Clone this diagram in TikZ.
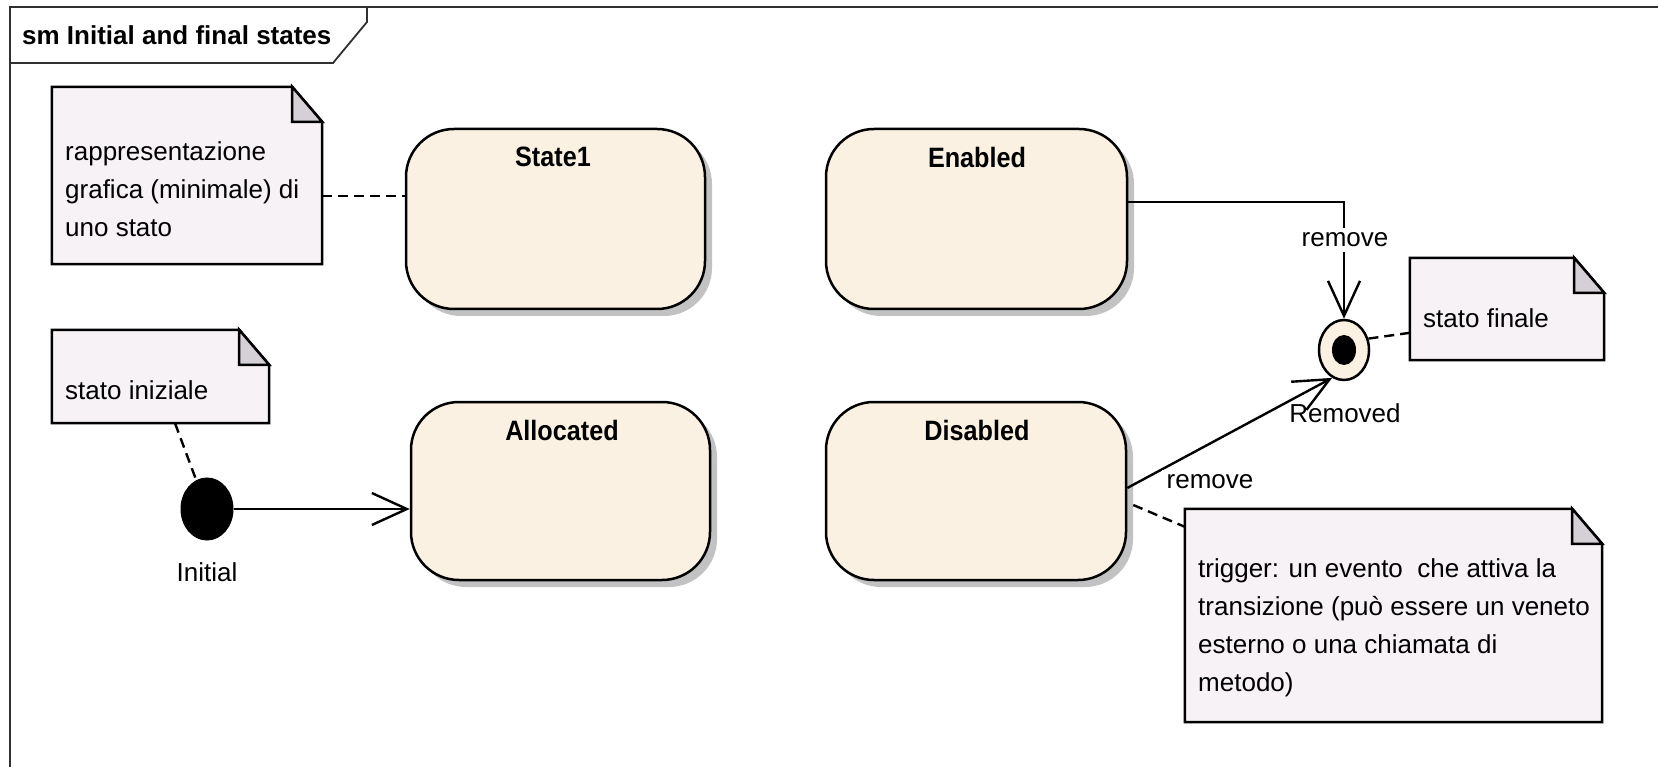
\documentclass[tikz,border=0pt]{standalone}
\usepackage{graphicx}
\usepackage{fontspec}
\setmainfont{Liberation Sans}
\usetikzlibrary{arrows.meta,shadows,calc,shapes.geometric}

\definecolor{statefill}{HTML}{FBF1E3}
\definecolor{notefill}{HTML}{F6F2F6}
\definecolor{foldfill}{HTML}{D4D0D6}
\definecolor{shadowgray}{HTML}{C2C2C2}
\definecolor{framegray}{HTML}{303030}

% state name, set bold and slightly condensed
\newcommand\statename[1]{\scalebox{0.9}[1]{\bfseries #1}}

% outline of a note with a folded top-right corner
\newcommand\dogear[1]{%
  \draw[notebox] (#1.north west) -- ([xshift=-30pt]#1.north east)
    -- ([yshift=-35pt]#1.north east) -- (#1.south east) -- (#1.south west) -- cycle;
  \draw[foldbox] ([xshift=-30pt]#1.north east) -- ([xshift=-30pt,yshift=-35pt]#1.north east)
    -- ([yshift=-35pt]#1.north east) -- cycle;}

\begin{document}
\begin{tikzpicture}[x=1pt,y=-1pt,
  txt/.style={font=\fontsize{26}{38}\selectfont, inner sep=0pt},
  statebox/.style={draw, line width=2.5pt, fill=statefill, rounded corners=48pt,
    general shadow={fill=shadowgray, shadow xshift=7pt, shadow yshift=-7pt}},
  statetitle/.style={font=\fontsize{28}{32}\selectfont, inner sep=0pt},
  notearea/.style={rectangle, inner sep=0pt},
  notebox/.style={draw, line width=2.5pt, fill=notefill, line join=miter},
  foldbox/.style={draw, line width=2.5pt, fill=foldfill, line join=miter},
  conn/.style={draw, line width=2.4pt},
  transarrow/.style={-{Straight Barb[length=35pt,width=32pt,line width=2.4pt]}},
  notelink/.style={draw, line width=2.4pt, dash pattern=on 10pt off 6pt},
  edgelabel/.style={txt, fill=white, inner sep=5pt},
]
\useasboundingbox (0,0) rectangle (1658,767);
\fill[white] (0,0) rectangle (1658,767);

% diagram frame and its name tab
\draw[line width=2.4pt, framegray] (10,767) -- (10,7) -- (1658,7);
\draw[line width=1.8pt, framegray] (10,63) -- (333,63) -- (367,22) -- (367,7);
\node[anchor=west, inner sep=0pt, font=\bfseries\fontsize{26}{30}\selectfont] (title) at (22,35) {sm Initial and final states};

% states
\node[statebox, minimum width=299pt, minimum height=180pt] (s1) at (555.5,219) {};
\node[statebox, minimum width=301pt, minimum height=180pt] (en) at (976.5,219) {};
\node[statebox, minimum width=299pt, minimum height=178pt] (al) at (560.5,491) {};
\node[statebox, minimum width=300pt, minimum height=178pt] (di) at (976,491) {};
\node[statetitle] (s1t) at (553,157) {\statename{State1}};
\node[statetitle] (ent) at (977,157) {\statename{Enabled}};
\node[statetitle] (alt) at (562,430) {\statename{Allocated}};
\node[statetitle] (dit) at (977,430) {\statename{Disabled}};

% pseudo states
\node[ellipse, fill=black, draw, line width=1pt, minimum width=52pt, minimum height=62pt, inner sep=0pt] (init) at (207,509) {};
\node[txt] (initl) at (207,572) {Initial};
\node[ellipse, draw, line width=2.5pt, fill=statefill, minimum width=50pt, minimum height=60pt, inner sep=0pt] (fin) at (1344,350) {};
\node[ellipse, fill=black, minimum width=24pt, minimum height=30pt, inner sep=0pt] (findot) at (fin) {};
\node[txt] (finl) at (1345,413) {Removed};

% notes
\node[notearea, minimum width=270pt, minimum height=177pt] (n1) at (187,175.5) {};
\node[notearea, minimum width=217pt, minimum height=93pt] (n2) at (160.5,376.5) {};
\node[notearea, minimum width=194pt, minimum height=102pt] (n3) at (1507,309) {};
\node[notearea, minimum width=417pt, minimum height=213pt] (n4) at (1393.5,615.5) {};
\dogear{n1}
\dogear{n2}
\dogear{n3}
\dogear{n4}
\node[txt, anchor=west, align=left] (n1t) at (65,189) {rappresentazione\\grafica (minimale) di\\uno stato};
\node[txt, anchor=west] (n2t) at (65,390) {stato iniziale};
\node[txt, anchor=west] (n3t) at (1423,318) {stato finale};
\node[txt, anchor=west, align=left] (n4t) at (1198,628) {trigger: un evento\ \ che attiva la\\transizione (può essere un veneto\\esterno o una chiamata di\\metodo)};

% note links
\draw[notelink] ([yshift=-20.5pt]n1.east) -- ([yshift=-20.5pt]n1.east -| s1.west);
\draw[notelink] ([xshift=14.5pt]n2.south) -- (init);
\draw[notelink] (fin.25) -- ([yshift=-75pt]n3.north west);
\draw[notelink] ([xshift=6pt,yshift=-14pt]di.east) -- ([yshift=-18pt]n4.north west);

% transitions
\draw[conn, transarrow] (init) -- (init -| al.west);
\draw[conn, transarrow] ([yshift=17pt]en.east) -| (fin.north);
\node[edgelabel] (rm1) at (1345,240) {remove};
\draw[conn, transarrow] ([yshift=3pt]di.east) -- (fin.-113);
\node[edgelabel] (rm2) at (1210,482) {remove};
\end{tikzpicture}
\end{document}
